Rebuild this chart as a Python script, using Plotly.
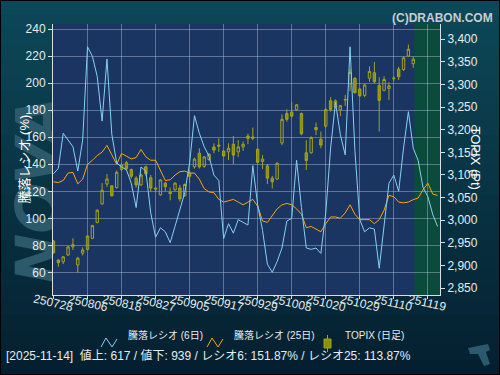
import plotly.graph_objects as go

# ---------------- data ----------------
trade_dates = [
    "250728", "250729", "250730", "250731", "250801", "250804", "250805", "250806", "250807", "250808",
    "250812", "250813", "250814", "250815", "250818", "250819", "250820", "250821", "250822", "250825",
    "250826", "250827", "250828", "250829", "250901", "250902", "250903", "250904", "250905", "250908",
    "250909", "250910", "250911", "250912", "250916", "250917", "250918", "250919", "250922", "250924",
    "250925", "250926", "250929", "250930", "251001", "251002", "251003", "251006", "251007", "251008",
    "251009", "251010", "251014", "251015", "251016", "251017", "251020", "251021", "251022", "251023",
    "251024", "251027", "251028", "251029", "251030", "251031", "251104", "251105", "251106", "251107",
    "251110", "251111", "251112", "251113", "251114", "251117", "251118", "251119", "251120", "251121",
]

ratio6 = [133, 137, 163, 158, 153, 135, 158, 227, 220, 205,
          172, 218, 162, 141, 138, 136, 126, 108, 138, 135,
          104, 86, 93, 90, 82, 94, 106, 119, 141, 176,
          163, 153, 146, 132, 128, 85, 96, 89, 99, 97,
          95, 139, 110, 91, 66, 60, 68, 78, 98, 100,
          143, 108, 78, 77, 78, 74, 104, 152, 186, 162,
          147, 227, 150, 99, 90, 93, 92, 63, 97, 126,
          132, 120, 152, 179, 151.87, 143, 123, 116, 103, 94]

ratio25 = [127, 126.5, 128, 133.5, 134, 125.5, 129, 140, 143, 146.5,
           149, 154, 147, 140, 148, 146, 144, 145, 151, 145.5,
           143, 143, 135, 128, 128.5, 132, 134.5, 135, 133.5, 133.5,
           129, 122, 119.5, 119, 114, 112, 113, 114, 112, 110,
           112, 114, 109, 98, 97, 102, 107, 110, 111, 110,
           107, 103, 93, 94, 92, 90, 96, 101, 101, 100,
           104, 110, 103, 99, 99, 99, 96, 99, 106, 117,
           116, 112, 111.5, 112, 113.87, 115, 121, 126, 118, 117]

topix_open = [2954, 2912, 2908, 2923, 2941, 2901, 2927, 2935, 2960, 2995,
              3036, 3080, 3076, 3072, 3112, 3127, 3112, 3093, 3078, 3118,
              3094, 3071, 3056, 3082, 3062, 3067, 3071, 3054, 3104, 3118,
              3148, 3119, 3134, 3162, 3166, 3153, 3151, 3168, 3151, 3162,
              3186, 3184, 3157, 3130, 3120, 3093, 3091, 3171, 3236, 3239,
              3244, 3236, 3149, 3149, 3205, 3179, 3208, 3264, 3250, 3244,
              3267, 3302, 3314, 3290, 3276, 3314, 3326, 3298, 3287, 3291,
              3313, 3334, 3333, 3363, 3346]
topix_high = [2956, 2913, 2921, 2943, 2960, 2919, 2940, 2967, 2990, 3024,
              3082, 3102, 3077, 3110, 3126, 3131, 3114, 3097, 3103, 3121,
              3100, 3074, 3091, 3085, 3072, 3084, 3078, 3081, 3110, 3138,
              3159, 3142, 3148, 3170, 3181, 3155, 3170, 3186, 3177, 3174,
              3191, 3205, 3158, 3144, 3124, 3098, 3128, 3234, 3245, 3262,
              3257, 3238, 3177, 3185, 3216, 3196, 3247, 3272, 3267, 3255,
              3277, 3334, 3316, 3292, 3302, 3340, 3350, 3316, 3318, 3305,
              3318, 3339, 3362, 3388, 3362]
topix_low = [2926, 2897, 2903, 2921, 2934, 2884, 2922, 2934, 2958, 2993,
             3034, 3074, 3052, 3070, 3108, 3110, 3092, 3072, 3076, 3098,
             3062, 3063, 3054, 3064, 3044, 3065, 3041, 3052, 3082, 3114,
             3114, 3116, 3131, 3148, 3151, 3140, 3133, 3124, 3140, 3153,
             3168, 3177, 3126, 3113, 3080, 3070, 3089, 3166, 3218, 3227,
             3242, 3188, 3111, 3147, 3188, 3159, 3205, 3240, 3247, 3230,
             3253, 3286, 3280, 3273, 3272, 3306, 3303, 3196, 3285, 3266,
             3308, 3310, 3330, 3361, 3337]
topix_close = [2928, 2906, 2919, 2941, 2946, 2916, 2934, 2965, 2988, 3022,
               3066, 3091, 3054, 3106, 3122, 3114, 3097, 3078, 3100, 3103,
               3071, 3069, 3089, 3074, 3059, 3082, 3047, 3079, 3097, 3135,
               3118, 3140, 3146, 3155, 3164, 3142, 3159, 3144, 3162, 3168,
               3181, 3181, 3128, 3135, 3093, 3085, 3126, 3223, 3223, 3230,
               3255, 3191, 3132, 3183, 3200, 3166, 3245, 3245, 3264, 3253,
               3266, 3327, 3282, 3275, 3299, 3329, 3306, 3265, 3311, 3297,
               3314, 3317, 3359, 3378, 3356]

ratio_ticks = [60, 80, 100, 120, 140, 160, 180, 200, 220, 240]
topix_ticks = [2850, 2900, 2950, 3000, 3050, 3100, 3150, 3200, 3250, 3300, 3350, 3400]
label_step = 7

legend_names = ["騰落レシオ (6日)", "騰落レシオ (25日)", "TOPIX (日足)"]
footer = "[2025-11-14]  値上: 617 / 値下: 939 / レシオ6: 151.87% / レシオ25: 113.87%"

# ---------------- layout helpers ----------------
W, H = 500, 375
L, R, T, B = 53, 60, 24, 80
PW, PH = W - L - R, H - T - B


def px(x):
    return (x - L) / PW


def py(y):
    return (H - B - y) / PH


FONT = "Liberation Sans, Noto Sans CJK JP, sans-serif"
TXT = "#e6ecf0"
OLIVE_FILL = "#8e8e08"
OLIVE_LINE = "#a3a31c"
BLUE = "#86d0f2"
ORANGE = "#ffa500"
GRID = "rgba(190,200,225,0.42)"

n_days = len(topix_close)
x_candle = list(range(n_days))
x_ratio = list(range(len(ratio6)))

fig = go.Figure()

fig.add_trace(go.Candlestick(
    x=x_candle, open=topix_open, high=topix_high, low=topix_low, close=topix_close,
    yaxis="y",
    increasing=dict(fillcolor="rgba(0,0,0,0)", line=dict(color=OLIVE_LINE, width=1)),
    decreasing=dict(fillcolor=OLIVE_FILL, line=dict(color=OLIVE_LINE, width=1)),
    whiskerwidth=0, showlegend=False, hoverinfo="skip",
))
fig.add_trace(go.Scatter(x=x_ratio, y=ratio25, yaxis="y2", mode="lines",
                         line=dict(color=ORANGE, width=1), showlegend=False, hoverinfo="skip"))
fig.add_trace(go.Scatter(x=x_ratio, y=ratio6, yaxis="y2", mode="lines",
                         line=dict(color=BLUE, width=1), showlegend=False, hoverinfo="skip"))

shapes = []
# background gradient
top_c = (12, 72, 88)
bot_c = (4, 32, 48)
nb = 25
for k in range(nb):
    t = k / (nb - 1)
    c = tuple(int(round(top_c[j] + (bot_c[j] - top_c[j]) * t)) for j in range(3))
    y0 = H * k / nb
    y1 = H * (k + 1) / nb + 1
    shapes.append(dict(type="rect", xref="paper", yref="paper", x0=px(0), x1=px(W),
                       y0=py(y1), y1=py(y0), fillcolor="rgb(%d,%d,%d)" % c,
                       line=dict(width=0), layer="below"))
# watermark
shapes.append(dict(type="rect", xref="paper", yref="paper", x0=px(6), x1=px(62),
                   y0=py(295), y1=py(85), line=dict(width=0), fillcolor="rgba(0,0,0,0)",
                   layer="below",
                   label=dict(text="<b><i>NOVA</i></b>", textangle=-90, textposition="middle center",
                              font=dict(family="DejaVu Sans", size=60, color="#2c5a6a"))))
# bottom-right logo fragment
lp = [(468, 348), (488, 344), (490, 350), (486, 352), (490, 364), (484, 366), (478, 354), (470, 354)]
path = "M " + " L ".join("%f,%f" % (px(a), py(b)) for a, b in lp) + " Z"
shapes.append(dict(type="path", xref="paper", yref="paper", path=path,
                   fillcolor="#2a5a6c", line=dict(width=0), layer="below"))
# plot area
shapes.append(dict(type="rect", xref="x domain", yref="y domain", x0=0, x1=1, y0=0, y1=1,
                   fillcolor="#1b3563", line=dict(width=0), layer="below"))
shapes.append(dict(type="rect", xref="x", yref="y domain", x0=n_days - 1 + 0.2, x1=79.5, y0=0, y1=1,
                   fillcolor="#0a4b3c", line=dict(width=0), layer="below"))

# legend icons
zz = [(101, 347), (106, 338), (112, 347), (117, 339)]
shapes.append(dict(type="path", xref="paper", yref="paper",
                   path="M " + " L ".join("%f,%f" % (px(a), py(b)) for a, b in zz),
                   line=dict(color=BLUE, width=1)))
zz2 = [(a + 106, b) for a, b in zz]
shapes.append(dict(type="path", xref="paper", yref="paper",
                   path="M " + " L ".join("%f,%f" % (px(a), py(b)) for a, b in zz2),
                   line=dict(color=ORANGE, width=1)))
shapes.append(dict(type="line", xref="paper", yref="paper", x0=px(327.5), x1=px(327.5),
                   y0=py(352), y1=py(335), line=dict(color=OLIVE_LINE, width=1)))
shapes.append(dict(type="rect", xref="paper", yref="paper", x0=px(324), x1=px(331),
                   y0=py(348), y1=py(339), fillcolor=OLIVE_FILL, line=dict(color=OLIVE_LINE, width=1)))
# outer border
shapes.append(dict(type="rect", xref="paper", yref="paper", x0=px(0), x1=px(W), y0=py(H), y1=py(0),
                   line=dict(color="#000000", width=2), fillcolor="rgba(0,0,0,0)"))

annotations = []
tick_idx = list(range(0, len(trade_dates), label_step))
for i in tick_idx:
    annotations.append(dict(x=i, y=py(303), xref="x", yref="paper", text=trade_dates[i],
                            showarrow=False, textangle=13, xanchor="center", yanchor="middle",
                            font=dict(family=FONT, size=12, color=TXT)))
annotations += [
    dict(x=px(14), y=py(159), xref="paper", yref="paper", text="騰落レシオ (%)", textangle=-90,
         showarrow=False, font=dict(family=FONT, size=13, color="#ffffff")),
    dict(x=px(485), y=py(158), xref="paper", yref="paper", text="TOPIX (Pt)", textangle=90,
         showarrow=False, font=dict(family=FONT, size=13, color="#ffffff")),
    dict(x=px(495), y=py(9), xref="paper", yref="paper", text="<b>(C)DRABON.COM</b>", xanchor="right",
         showarrow=False, font=dict(family=FONT, size=12, color="#c6cdd3")),
    dict(x=px(126), y=py(343), xref="paper", yref="paper", text=legend_names[0], xanchor="left",
         showarrow=False, font=dict(family=FONT, size=10, color=TXT)),
    dict(x=px(232), y=py(343), xref="paper", yref="paper", text=legend_names[1], xanchor="left",
         showarrow=False, font=dict(family=FONT, size=10, color=TXT)),
    dict(x=px(343), y=py(343), xref="paper", yref="paper", text=legend_names[2], xanchor="left",
         showarrow=False, font=dict(family=FONT, size=10, color=TXT)),
    dict(x=px(4), y=py(365), xref="paper", yref="paper", text=footer, xanchor="left",
         showarrow=False, font=dict(family=FONT, size=12, color=TXT)),
]

fig.update_layout(
    width=W, height=H,
    margin=dict(l=L, r=R, t=T, b=B, pad=0),
    paper_bgcolor="#083446", plot_bgcolor="rgba(0,0,0,0)",
    showlegend=False,
    xaxis=dict(range=[-0.1, 79.5], tickvals=tick_idx, showticklabels=False,
               ticks="outside", ticklen=3, tickcolor="#d8dee4",
               showgrid=True, gridcolor=GRID, gridwidth=1, zeroline=False,
               showline=True, linecolor="#d8dee4", linewidth=1,
               rangeslider=dict(visible=False)),
    yaxis=dict(side="right", range=[2834.6, 3433.8], tickvals=topix_ticks, tickformat=",",
               ticks="outside", ticklen=4, tickcolor="#d8dee4", showgrid=False, zeroline=False,
               showline=True, linecolor="#d8dee4", linewidth=1,
               tickfont=dict(family=FONT, size=12, color=TXT)),
    yaxis2=dict(side="left", overlaying="y", range=[43.2, 243.9], tickvals=ratio_ticks,
                ticks="outside", ticklen=4, tickcolor="#d8dee4",
                showgrid=True, gridcolor=GRID, gridwidth=1, zeroline=False,
                showline=True, linecolor="#d8dee4", linewidth=1,
                tickfont=dict(family=FONT, size=12, color=TXT)),
    shapes=shapes,
    annotations=annotations,
)

fig.write_html("out.html", config={"displayModeBar": False, "staticPlot": True},
               post_script="document.body.style.margin='0px';document.body.style.overflow='hidden';")
